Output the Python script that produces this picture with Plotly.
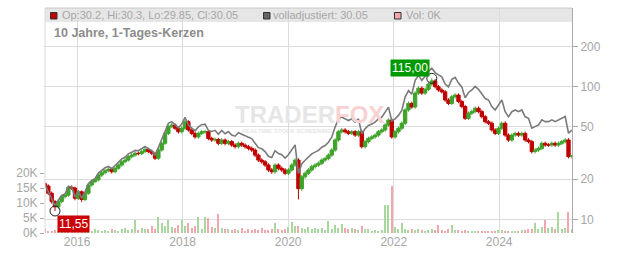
import math
import plotly.graph_objects as go
import pandas as pd

# ---------------- data ----------------
first_open = 18.5
close = [
    17.8, 15.7, 13.6, 12.4, 13.6, 14.8, 15.2, 17.4, 17.2, 14.4,
    16.1, 14.1, 15.7, 18.1, 19.2, 19.8, 21.5, 22.4, 23.2, 23.8,
    22.8, 24.2, 25.6, 27.1, 27.9, 29.6, 30.4, 31.4, 31.2, 32.3,
    33.6, 32.3, 31.4, 28.8, 33.2, 37.3, 44.3, 49.8, 51.2, 48.4,
    45.6, 48.4,
    54.2, 47.0, 44.3, 41.7, 44.3, 45.6, 45.6, 40.6, 39.5, 39.9,
    37.3, 39.5, 37.3, 38.4, 36.2, 35.2, 37.3, 36.2, 35.2, 34.2,
    33.2, 30.4, 27.9, 27.1, 25.6, 23.5, 22.8, 25.6, 24.2, 23.5,
    22.2, 23.5, 25.6, 27.9, 17.0,
    20.9, 22.2, 23.5, 24.9, 25.6, 26.4, 27.9, 28.7, 30.4, 33.2,
    39.5, 45.6, 47.0, 45.6, 44.3, 45.6, 43.0, 45.6, 35.2, 38.4,
    40.6, 41.7, 43.0, 45.6, 47.0, 51.2, 55.8, 41.7, 45.6, 48.4,
    52.8, 66.5, 74.5, 70.0, 89.0, 96.9, 89.0, 95.0, 104.0, 110.0,
    99.5, 94.0, 91.0, 79.0, 74.5, 83.5, 86.0, 77.0, 70.5, 57.5,
    62.8, 64.6, 68.5, 64.6, 59.2, 54.2, 52.8, 47.0, 44.3, 48.4,
    52.8, 43.0, 39.5, 43.0, 44.3, 43.0, 44.3, 39.5, 38.4, 32.3,
    33.2, 34.2, 37.3, 36.2, 36.2, 37.3, 36.2, 37.3, 38.4, 39.5,
    29.6, 30.05,
]
high = [
    19.0, 18.3, 16.2, 14.0, 14.1, 15.3, 15.8, 17.9, 18.0, 17.6,
    16.6, 16.5, 16.2, 18.6, 19.8, 20.5, 22.2, 23.2, 24.0, 24.6,
    24.5, 25.0, 26.4, 28.0, 28.9, 30.6, 31.4, 32.4, 32.3, 33.4,
    34.7, 34.6, 33.2, 32.2, 34.2, 38.5, 45.8, 51.4, 53.0, 52.8,
    49.9, 50.0,
    56.0, 55.6, 48.4, 45.6, 45.7, 47.1, 47.2, 46.8, 41.8, 41.2,
    41.0, 40.8, 40.6, 39.6, 39.5, 37.3, 38.5, 38.4, 37.3, 36.3,
    35.3, 34.2, 31.3, 28.8, 27.9, 26.4, 24.3, 26.4, 26.4, 25.0,
    24.3, 24.3, 26.4, 28.8, 28.8,
    21.6, 23.0, 24.3, 25.7, 26.4, 27.3, 28.8, 29.6, 31.4, 34.3,
    40.8, 47.1, 48.5, 48.5, 47.0, 47.0, 47.0, 47.0, 47.0, 39.6,
    41.9, 43.0, 44.4, 47.0, 48.5, 52.8, 57.6, 57.5, 47.0, 49.9,
    54.5, 68.6, 76.9, 76.8, 91.8, 100.0, 100.0, 98.0, 107.3, 115.0,
    113.5, 102.7, 97.0, 93.9, 81.5, 86.2, 88.7, 88.7, 79.4, 72.7,
    64.8, 66.7, 70.7, 70.7, 66.7, 61.1, 55.9, 54.5, 48.5, 49.9,
    54.5, 54.5, 44.4, 44.4, 45.7, 45.7, 45.7, 45.7, 40.8, 39.6,
    34.3, 35.3, 38.5, 38.5, 37.4, 38.5, 38.5, 38.5, 39.6, 40.8,
    40.8, 30.3,
]
low = [
    17.2, 15.2, 13.1, 11.55, 12.0, 13.2, 14.3, 14.8, 16.6, 13.9,
    14.0, 13.5, 13.7, 15.3, 17.6, 18.7, 19.3, 20.9, 21.8, 22.6,
    22.1, 22.2, 23.6, 24.9, 26.4, 27.2, 28.8, 29.6, 30.3, 30.4,
    31.4, 31.4, 30.4, 27.9, 28.0, 32.3, 36.3, 43.1, 48.4, 46.9,
    44.2, 44.3,
    47.0, 45.6, 42.9, 40.4, 40.4, 43.0, 44.0, 39.3, 38.2, 38.3,
    36.0, 36.1, 36.0, 36.1, 35.0, 34.0, 34.1, 35.0, 34.0, 33.0,
    32.1, 29.4, 27.0, 26.2, 24.7, 22.7, 22.0, 22.0, 23.4, 22.7,
    21.5, 21.5, 22.8, 24.8, 14.1,
    16.4, 20.2, 21.5, 22.8, 24.1, 24.8, 25.6, 27.0, 27.8, 29.5,
    32.2, 38.3, 44.2, 44.2, 43.0, 43.0, 41.7, 41.7, 34.1, 34.1,
    37.2, 39.4, 40.4, 41.7, 44.2, 45.6, 49.7, 40.4, 40.4, 44.2,
    46.9, 51.2, 64.5, 67.9, 67.9, 86.3, 86.3, 86.3, 92.2, 100.9,
    96.5, 91.2, 88.3, 76.6, 72.3, 72.3, 81.0, 74.7, 68.4, 55.8,
    55.8, 60.9, 62.7, 62.7, 57.4, 52.6, 51.2, 45.6, 43.0, 43.0,
    46.9, 41.7, 38.3, 38.3, 41.7, 41.7, 41.7, 38.3, 37.2, 31.3,
    31.3, 32.2, 33.2, 35.1, 35.1, 35.1, 35.1, 35.1, 36.2, 37.2,
    28.7, 28.7,
]
adjusted = [
    18.2, 16.0, 13.9, 12.6, 13.9, 15.1, 15.5, 17.7, 17.5, 14.7,
    16.4, 14.4, 16.0, 18.5, 19.6, 20.2, 22.3, 23.4, 24.4, 25.0,
    24.0, 25.4, 26.9, 28.5, 29.3, 31.1, 31.9, 33.0, 32.8, 33.9,
    35.3, 33.9, 33.0, 30.2, 34.9, 39.2, 46.5, 52.8, 54.3, 51.3,
    48.8, 52.0,
    58.5, 51.2, 48.7, 46.3, 49.6, 51.5, 52.0, 46.7, 45.8, 46.7,
    43.6, 46.6, 44.0, 45.7, 43.1, 42.2, 44.8, 43.4, 42.6, 41.4,
    40.5, 37.4, 34.6, 33.9, 32.3, 29.8, 29.2, 32.8, 31.2, 30.6,
    28.9, 30.6, 33.3, 36.3, 22.1,
    26.1, 27.8, 29.4, 31.1, 32.0, 33.0, 34.9, 35.9, 38.0, 41.5,
    49.4, 57.0, 58.8, 57.0, 55.4, 57.0, 53.8, 57.0, 44.0, 48.0,
    50.8, 52.1, 53.8, 57.0, 58.8, 64.0, 69.8, 55.0, 57.0, 60.5,
    66.0, 83.0, 93.0, 87.5, 111.0, 121.0, 111.0, 119.0, 130.0, 137.0,
    127, 122, 118, 104, 99, 113, 117, 106, 99, 82,
    90, 94, 100, 95, 88, 81, 79, 70.5, 66.5, 72.6,
    79, 64.5, 59, 64.5, 66.5, 64.5, 66.5, 59, 57.6, 48.5,
    49.8, 51.3, 56, 54.3, 54.3, 56, 54.3, 56, 57.6, 59.3,
    44.4, 47,
]
volume_k = [
    1.2, 0.8, 0.6, 0.9, 0.5, 0.7, 0.8, 0.6, 1.0, 0.7,
    0.9, 0.6, 1.1, 0.8, 0.7, 1.3, 0.9, 0.6, 1.0, 0.8,
    1.4, 0.9, 0.7, 1.2, 1.6, 1.0, 1.3, 4.3, 1.1, 1.8,
    1.2, 1.5, 2.2, 1.4, 5.4, 3.4, 2.5, 4.3, 2.0, 1.6,
    2.8, 4.3,
    2.5, 3.3, 1.8, 2.2, 5.4, 1.5, 5.4, 5.0, 2.0, 1.6,
    6.3, 1.8, 1.2, 1.5, 0.9, 1.3, 1.0, 1.6, 0.8, 1.2,
    0.9, 1.4, 1.0, 1.7, 1.1, 0.9, 1.3, 3.2, 1.2, 1.0,
    1.4, 2.0, 3.7, 2.5, 2.2,
    1.8, 1.2, 2.0, 1.4, 1.8, 1.2, 1.6, 1.0, 4.0, 1.5,
    2.8, 1.6, 3.0, 1.8, 1.3, 1.6, 1.2, 1.0, 2.3, 1.3,
    1.2, 0.8, 0.9, 0.7, 1.0, 9.3, 9.3, 15.7, 2.0, 1.2,
    3.3, 1.5, 1.0, 1.2, 0.9, 1.3, 1.0, 0.8, 1.1, 1.4,
    0.9, 2.7, 1.0, 0.8, 1.2, 2.7, 1.1, 0.9, 0.7, 1.0,
    0.8, 0.6, 0.7, 0.5, 0.6, 0.8, 0.5, 0.7, 0.6, 0.9,
    1.0, 0.6, 0.5, 0.7, 0.8, 0.6, 0.9, 1.0, 1.4, 1.2,
    3.3, 1.5, 2.0, 4.3, 1.6, 2.0, 1.5, 7.1, 1.3, 1.8,
    7.1, 1.5,
]
low_mark_index, low_label = 3, "11,55"
high_mark_index, high_label = 116, "115,00"
price_ticks = [10, 20, 50, 100, 200]
volume_ticks = [0, 5, 10, 15, 20]
header_ohlc = "Op:30.2, Hi:30.3, Lo:29.85, Cl:30.05"
header_adj = "volladjustiert: 30.05"
header_vol = "Vol: 0K"
subtitle = "10 Jahre, 1-Tages-Kerzen"

dates = pd.date_range("2015-05-24", "2025-05-18", periods=len(close))
opens = [first_open] + close[:-1]
vol_colors = ["#a8d8a0" if c >= o else "#f2a6ae" for o, c in zip(opens, close)]

# ---------------- layout helpers ----------------
W, H = 632, 253
ML, MR, MT, MB = 45, 60, 8, 20
PW, PH = W - ML - MR, H - MT - MB


def px(x):
    return (x - ML) / PW


def py(y):
    return (H - MB - y) / PH


FONT = "Liberation Sans, Arial, sans-serif"
TXT = "#a6a6a6"

fig = go.Figure()

fig.add_trace(go.Candlestick(
    x=dates, open=opens, high=high, low=low, close=close,
    increasing=dict(line=dict(color="#3fa32a", width=1), fillcolor="#3fa32a"),
    decreasing=dict(line=dict(color="#c00000", width=1), fillcolor="#c00000"),
    whiskerwidth=0, yaxis="y", hoverinfo="skip",
))
fig.add_trace(go.Scatter(
    x=dates, y=adjusted, mode="lines", line=dict(color="#7a7a7a", width=1.6),
    yaxis="y", hoverinfo="skip",
))
fig.add_trace(go.Bar(
    x=dates, y=volume_k, marker=dict(color=vol_colors, line=dict(width=0)),
    width=9 * 24 * 3600 * 1000, yaxis="y2", hoverinfo="skip",
))
fig.add_trace(go.Scatter(
    x=[dates[low_mark_index], dates[high_mark_index]],
    y=[low[low_mark_index], high[high_mark_index]], mode="markers",
    marker=dict(symbol="circle-open", size=10, color="#222", line=dict(width=1)),
    yaxis="y", hoverinfo="skip",
))

annotations = [
    dict(x=dates[low_mark_index], y=math.log10(low[low_mark_index]), xref="x", yref="y",
         text=low_label, showarrow=False, xanchor="left", yanchor="top",
         xshift=2, yshift=-4, bgcolor="#cc0000", borderpad=1,
         font=dict(family=FONT, size=12, color="white")),
    dict(x=dates[high_mark_index], y=math.log10(high[high_mark_index]), xref="x", yref="y",
         text=high_label, showarrow=False, xanchor="right", yanchor="bottom",
         xshift=-2, yshift=1, bgcolor="#009900", borderpad=1,
         font=dict(family=FONT, size=12, color="white")),
    dict(x=px(60), y=py(15.5), xref="paper", yref="paper", text=header_ohlc,
         showarrow=False, xanchor="left", yanchor="middle",
         font=dict(family=FONT, size=11, color=TXT)),
    dict(x=px(271), y=py(15.5), xref="paper", yref="paper", text=header_adj,
         showarrow=False, xanchor="left", yanchor="middle",
         font=dict(family=FONT, size=11, color=TXT)),
    dict(x=px(404), y=py(15.5), xref="paper", yref="paper", text=header_vol,
         showarrow=False, xanchor="left", yanchor="middle",
         font=dict(family=FONT, size=11, color=TXT)),
    dict(x=px(51.5), y=py(33.5), xref="paper", yref="paper", text="<b>" + subtitle + "</b>",
         showarrow=False, xanchor="left", yanchor="middle",
         font=dict(family=FONT, size=12.5, color="#8c8c8c")),
    dict(x=px(309), y=py(115), xref="paper", yref="paper",
         text="<b>TRADER<span style='color:#f7d2d2'>FOX</span></b>",
         showarrow=False, xanchor="center", yanchor="middle",
         font=dict(family=FONT, size=24, color="#e6e6e6")),
    dict(x=px(240), y=py(131), xref="paper", yref="paper",
         text="<b>REALTIME STOCK SCREENING</b>",
         showarrow=False, xanchor="left", yanchor="middle",
         font=dict(family=FONT, size=6, color="#e6e6e6")),
]

shapes = [
    dict(type="rect", xref="paper", yref="paper", x0=0, x1=1, y0=py(22), y1=1,
         fillcolor="#e6e6e6", line=dict(width=0), layer="below"),
    dict(type="line", xref="paper", yref="paper", x0=0, x1=1, y0=1, y1=1,
         line=dict(color="#c8c8c8", width=1)),
    dict(type="line", xref="paper", yref="paper", x0=0, x1=0, y0=0, y1=1,
         line=dict(color="#d8d8d8", width=1)),
    dict(type="rect", xref="paper", yref="paper", x0=px(50.5), x1=px(57), y0=py(19), y1=py(12.5),
         fillcolor="#c00000", line=dict(color="#333", width=1)),
    dict(type="rect", xref="paper", yref="paper", x0=px(263.5), x1=px(270), y0=py(19), y1=py(12.5),
         fillcolor="#666666", line=dict(color="#333", width=1)),
    dict(type="rect", xref="paper", yref="paper", x0=px(394.5), x1=px(401), y0=py(19), y1=py(12.5),
         fillcolor="#f2a6ae", line=dict(color="#333", width=1)),
]

fig.update_layout(
    width=W, height=H, margin=dict(l=ML, r=MR, t=MT, b=MB, autoexpand=False),
    paper_bgcolor="white", plot_bgcolor="rgba(0,0,0,0)",
    showlegend=False, bargap=0, boxgap=0, boxgroupgap=0,
    font=dict(family=FONT, size=12, color=TXT),
    xaxis=dict(
        type="date", range=["2015-05-24", "2025-05-19"],
        tick0="2016-01-01", dtick="M24", tickformat="%Y",
        showgrid=True, gridcolor="#dcdcdc", gridwidth=1,
        zeroline=False, showline=False, ticks="", automargin=False,
        rangeslider=dict(visible=False),
        tickfont=dict(family=FONT, size=12, color=TXT),
    ),
    yaxis=dict(
        type="log", range=[0.8969, 2.5899], side="right",
        tickvals=price_ticks, ticktext=[str(v) for v in price_ticks],
        showgrid=True, gridcolor="#dcdcdc", gridwidth=1, automargin=False,
        ticks="outside", ticklen=5, tickcolor="#aaaaaa",
        showline=True, linecolor="#aaaaaa", linewidth=1, zeroline=False,
        tickfont=dict(family=FONT, size=12, color=TXT),
    ),
    yaxis2=dict(
        overlaying="y", side="left", range=[0, 75], automargin=False,
        tickvals=volume_ticks, ticktext=[f"{v}K" for v in volume_ticks],
        showgrid=False, ticks="outside", ticklen=4, tickcolor="#aaaaaa",
        showline=False, zeroline=False,
        tickfont=dict(family=FONT, size=12, color=TXT),
    ),
    annotations=annotations,
    shapes=shapes,
)

fig.write_html("out.html")
